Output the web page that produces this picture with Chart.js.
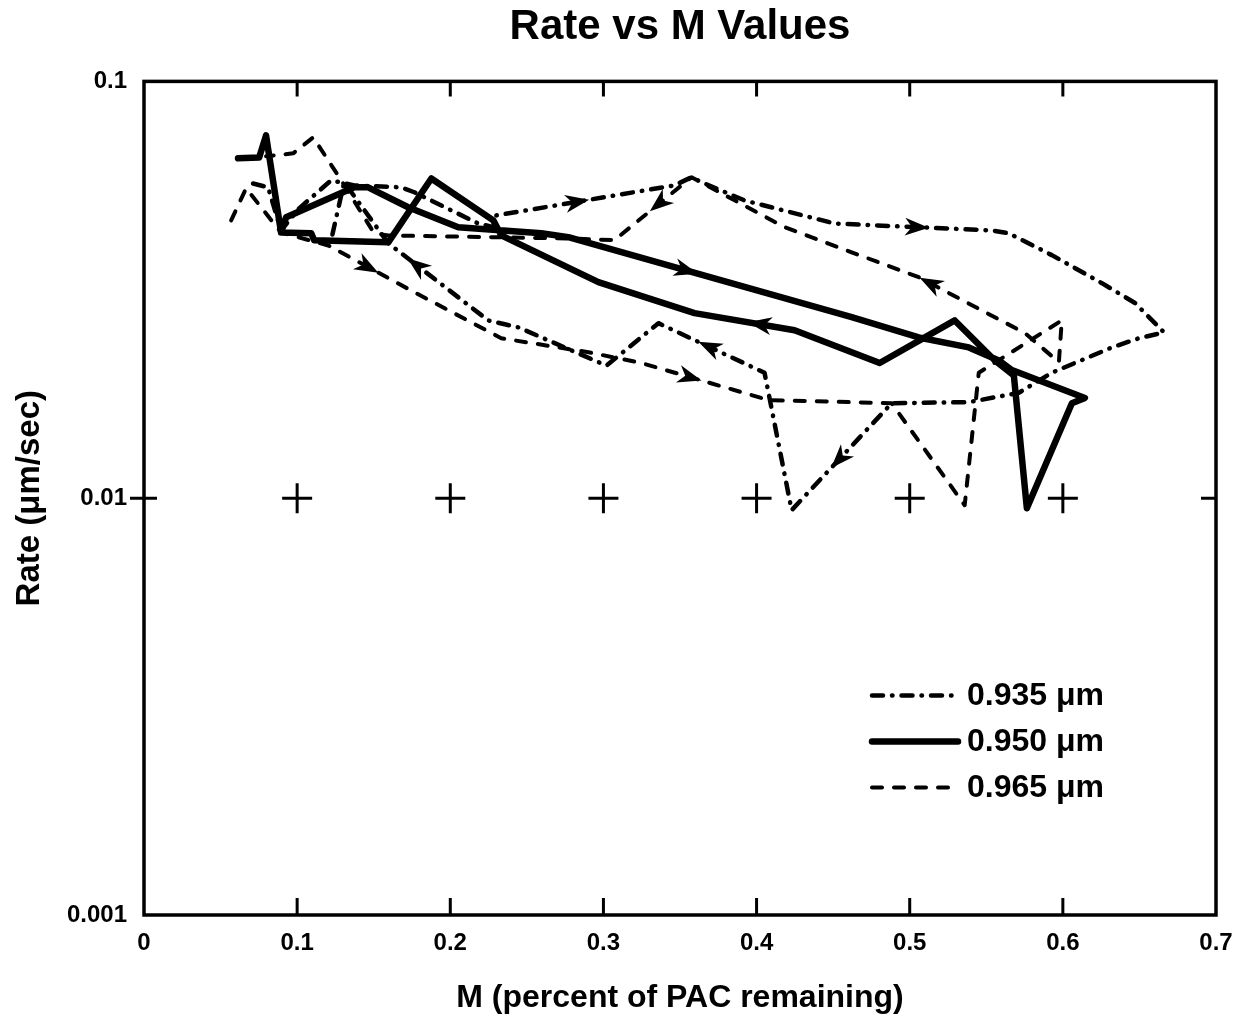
<!DOCTYPE html>
<html>
<head>
<meta charset="utf-8">
<title>Rate vs M Values</title>
<script src="https://cdn.jsdelivr.net/npm/chart.js@4.4.1/dist/chart.umd.min.js"></script>
<style>
  html, body { margin: 0; padding: 0; background: #fff; }
  #wrap { width: 1250px; height: 1017px; }
</style>
</head>
<body>
<div id="wrap"><canvas id="grafica"></canvas></div>
<script>
// Values, in path order (each curve is a loop)
const m935 = [0.0712, 0.0810, 0.0895, 0.1013, 0.1222, 0.1373, 0.1680, 0.1765, 0.2183, 0.2281,
  0.2301, 0.3464, 0.3575, 0.3641, 0.3922, 0.4510, 0.5536, 0.5647, 0.5928, 0.6255,
  0.6471, 0.6660, 0.6497, 0.6320, 0.5928, 0.5712, 0.5386, 0.4882, 0.4229, 0.4052,
  0.3359, 0.3020, 0.2444, 0.2248, 0.1595, 0.1307, 0.1222];
const rate935 = [0.0569, 0.0557, 0.0439, 0.0496, 0.0579, 0.0563, 0.0557, 0.0542, 0.0456, 0.0447,
  0.0477, 0.0563, 0.0589, 0.0573, 0.0518, 0.0456, 0.0439, 0.0432, 0.0383, 0.0328,
  0.0294, 0.0250, 0.0242, 0.0230, 0.0200, 0.0179, 0.0170, 0.0169, 0.00936, 0.0200,
  0.0263, 0.0208, 0.0257, 0.0267, 0.0409, 0.0573, 0.0416];

const m950 = [0.0614, 0.0752, 0.0797, 0.0895, 0.0928, 0.1373, 0.1464, 0.1725, 0.2052, 0.2595,
  0.2771, 0.4621, 0.5059, 0.5386, 0.5582, 0.5667, 0.6144, 0.6059, 0.5765, 0.5680,
  0.5556, 0.5294, 0.4804, 0.4248, 0.3595, 0.2967, 0.2333, 0.2281, 0.1876, 0.1595,
  0.1111, 0.1092, 0.0895];
const rate950 = [0.0654, 0.0657, 0.0742, 0.0434, 0.0472, 0.0557, 0.0557, 0.0499, 0.0447, 0.0432,
  0.0423, 0.0272, 0.0243, 0.0230, 0.0214, 0.0203, 0.0174, 0.0169, 0.00946, 0.0197,
  0.0214, 0.0267, 0.0211, 0.0253, 0.0278, 0.0330, 0.0427, 0.0464, 0.0585, 0.0411,
  0.0416, 0.0432, 0.0434];

const m965 = [0.0569, 0.0667, 0.0895, 0.1203, 0.1765, 0.2333, 0.2902, 0.3248, 0.4078, 0.4882,
  0.5359, 0.5451, 0.5993, 0.5974, 0.5752, 0.5059, 0.4621, 0.4183, 0.3575, 0.3072,
  0.2771, 0.1595, 0.1503, 0.1288, 0.1105, 0.0974, 0.0797];
const rate965 = [0.0464, 0.0554, 0.0434, 0.0404, 0.0312, 0.0242, 0.0224, 0.0211, 0.0172, 0.0169,
  0.00962, 0.0200, 0.0267, 0.0212, 0.0249, 0.0339, 0.0389, 0.0447, 0.0589, 0.0416,
  0.0420, 0.0427, 0.0432, 0.0579, 0.0734, 0.0672, 0.0661];

// direction arrows: [segment index, fraction along the segment]
const flechas935 = [[10, 0.46], [15, 0.53], [27, 0.53], [29, 0.53], [33, 0.72]];
const flechas950 = [[10, 0.42], [23, 0.36]];
const flechas965 = [[3, 0.47], [7, 0.39], [14, 0.9], [18, 0.43]];

// reference "+" marks along 0.01
const crossM = [0.1, 0.2, 0.3, 0.4, 0.5, 0.6];
const crossRate = [0.01, 0.01, 0.01, 0.01, 0.01, 0.01];

const xTicks = [0, 0.1, 0.2, 0.3, 0.4, 0.5, 0.6, 0.7];
const xTickLabels = ['0', '0.1', '0.2', '0.3', '0.4', '0.5', '0.6', '0.7'];
const yTicks = [0.001, 0.01, 0.1];
const yTickLabels = ['0.001', '0.01', '0.1'];

const seriesLabels = ['0.935 \u03BCm', '0.950 \u03BCm', '0.965 \u03BCm'];

const fuente = '"Liberation Sans", Arial, Helvetica, sans-serif';
Chart.defaults.font.family = fuente;
Chart.defaults.color = '#000';

function puntos(xs, ys) {
  return xs.map((x, i) => ({ x: x, y: ys[i] }));
}

function serie(label, xs, ys, width, dash, flechas) {
  return {
    label: label,
    data: puntos(xs, ys),
    showLine: true,
    borderColor: '#000',
    backgroundColor: '#000',
    borderWidth: width,
    borderDash: dash,
    borderCapStyle: 'round',
    borderJoinStyle: 'round',
    pointRadius: 0,
    pointHoverRadius: 0,
    fill: false,
    tension: 0,
    flechas: flechas
  };
}

// frame and inward tick marks
const marcoPlugin = {
  id: 'marco',
  afterDraw(chart) {
    const { ctx, chartArea: a, scales } = chart;
    ctx.save();
    ctx.strokeStyle = '#000';
    ctx.lineWidth = 3.5;
    ctx.strokeRect(a.left, a.top, a.right - a.left, a.bottom - a.top);
    ctx.lineWidth = 3;
    ctx.beginPath();
    xTicks.slice(1, -1).forEach(v => {
      const px = scales.x.getPixelForValue(v);
      ctx.moveTo(px, a.top); ctx.lineTo(px, a.top + 15);
      ctx.moveTo(px, a.bottom); ctx.lineTo(px, a.bottom - 17);
    });
    const py = scales.y.getPixelForValue(yTicks[1]);
    ctx.moveTo(a.left - 14, py); ctx.lineTo(a.left + 13, py);
    ctx.moveTo(a.right - 15, py); ctx.lineTo(a.right, py);
    ctx.stroke();
    ctx.restore();
  }
};

// arrow heads placed on the path segments
const flechasPlugin = {
  id: 'flechas',
  afterDatasetsDraw(chart) {
    const { ctx, scales } = chart;
    ctx.save();
    ctx.fillStyle = '#000';
    chart.data.datasets.forEach(ds => {
      if (!ds.flechas) return;
      ds.flechas.forEach(([i, t]) => {
        const p0 = ds.data[i], p1 = ds.data[i + 1];
        const x0 = scales.x.getPixelForValue(p0.x), y0 = scales.y.getPixelForValue(p0.y);
        const x1 = scales.x.getPixelForValue(p1.x), y1 = scales.y.getPixelForValue(p1.y);
        const ang = Math.atan2(y1 - y0, x1 - x0);
        const tx = x0 + (x1 - x0) * t, ty = y0 + (y1 - y0) * t;
        ctx.save();
        ctx.translate(tx, ty);
        ctx.rotate(ang);
        ctx.beginPath();
        ctx.moveTo(11, 0);
        ctx.lineTo(-13, -9);
        ctx.lineTo(-6, 0);
        ctx.lineTo(-13, 9);
        ctx.closePath();
        ctx.fill();
        ctx.restore();
      });
    });
    ctx.restore();
  }
};

// legend drawn inside the plot, lower right
const leyendaPlugin = {
  id: 'leyenda',
  afterDraw(chart) {
    const { ctx, chartArea: a } = chart;
    const filas = [614, 660, 706];
    ctx.save();
    ctx.font = 'bold 32px ' + fuente;
    ctx.textBaseline = 'middle';
    ctx.fillStyle = '#000';
    ctx.strokeStyle = '#000';
    ctx.lineCap = 'round';
    seriesLabels.forEach((txt, i) => {
      const ds = chart.data.datasets[i];
      const y = a.top + filas[i];
      const x = a.left + 728;
      ctx.lineWidth = ds.borderWidth;
      ctx.setLineDash(ds.borderDash);
      ctx.beginPath();
      ctx.moveTo(x, y);
      ctx.lineTo(x + 86, y);
      ctx.stroke();
      ctx.setLineDash([]);
      ctx.fillText(txt, x + 95, y + 1);
    });
    ctx.restore();
  }
};

const ctx = document.getElementById('grafica');
new Chart(ctx, {
  type: 'scatter',
  data: {
    datasets: [
      serie(seriesLabels[0], m935, rate935, 4.5, [11, 9, 0.5, 9], flechas935),
      serie(seriesLabels[1], m950, rate950, 6.5, [], flechas950),
      serie(seriesLabels[2], m965, rate965, 4, [10, 12], flechas965),
      {
        label: 'marks',
        data: puntos(crossM, crossRate),
        showLine: false,
        pointStyle: 'cross',
        pointRadius: 15,
        pointHoverRadius: 15,
        borderWidth: 3,
        borderColor: '#000'
      }
    ]
  },
  options: {
    responsive: true,
    maintainAspectRatio: false,
    animation: false,
    layout: { padding: { left: 10, right: 34, top: 0, bottom: 0 } },
    plugins: {
      legend: { display: false },
      tooltip: { enabled: false },
      title: {
        display: true,
        fullSize: false,
        text: 'Rate vs M Values',
        color: '#000',
        font: { size: 42, weight: 'bold' },
        padding: { top: 2, bottom: 29 }
      }
    },
    scales: {
      x: {
        type: 'linear',
        min: 0,
        max: 0.7,
        afterBuildTicks: s => { s.ticks = xTicks.map(v => ({ value: v })); },
        afterFit: s => { s.height = 102; },
        grid: { display: false },
        border: { display: false },
        ticks: {
          callback: (v, i) => xTickLabels[i],
          font: { size: 24, weight: 'bold' },
          color: '#000',
          padding: 6,
          maxRotation: 0,
          autoSkip: false
        },
        title: {
          display: true,
          text: 'M (percent of PAC remaining)',
          color: '#000',
          font: { size: 32, weight: 'bold' },
          padding: 0
        }
      },
      y: {
        type: 'logarithmic',
        min: 0.001,
        max: 0.1,
        afterBuildTicks: s => { s.ticks = yTicks.map(v => ({ value: v })); },
        afterFit: s => { s.width = 134; },
        grid: { display: false },
        border: { display: false },
        ticks: {
          callback: (v, i) => yTickLabels[i],
          font: { size: 24, weight: 'bold' },
          color: '#000',
          padding: 9,
          autoSkip: false
        },
        title: {
          display: true,
          text: 'Rate (\u03BCm/sec)',
          color: '#000',
          font: { size: 33, weight: 'bold' },
          padding: 0
        }
      }
    }
  },
  plugins: [marcoPlugin, flechasPlugin, leyendaPlugin]
});
</script>
</body>
</html>
